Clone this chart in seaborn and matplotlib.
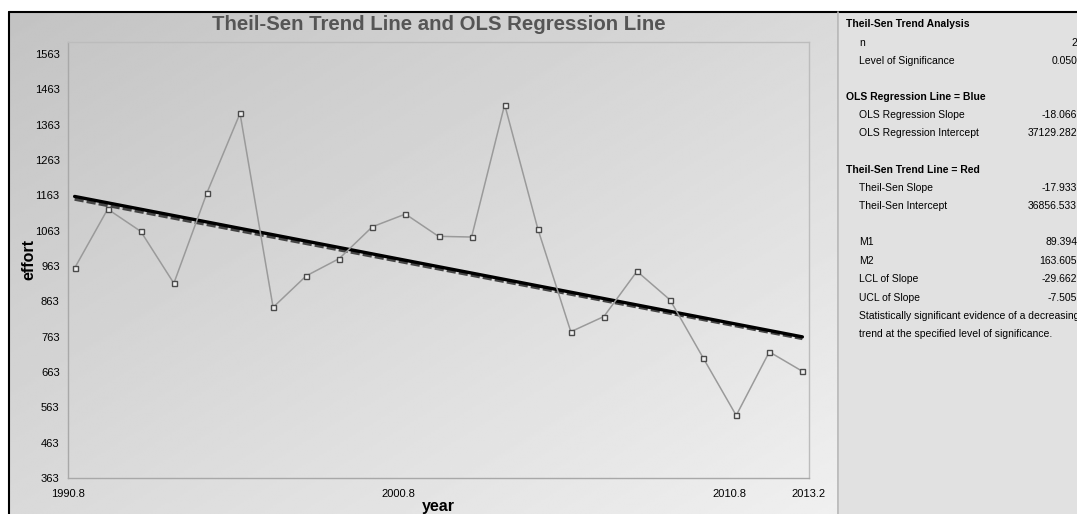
import numpy as np
import pandas as pd
import matplotlib
matplotlib.use("Agg")
import matplotlib.pyplot as plt
from matplotlib.lines import Line2D
import seaborn as sns

# ---- data -------------------------------------------------------------
years = list(range(1991, 2014))
effort = [957, 1124, 1061, 914, 1170, 1395, 846, 935, 984, 1074, 1110,
          1047, 1045, 1420, 1069, 777, 820, 948, 867, 703, 540, 720, 665]

ols_slope = -18.066
ols_intercept = 37129.282
ts_slope = -17.933
ts_intercept = 36856.533

y_ticks = [363, 463, 563, 663, 763, 863, 963, 1063, 1163, 1263, 1363, 1463, 1563]
x_ticks = [1990.8, 2000.8, 2010.8, 2013.2]
x_tick_labels = ["1990.8", "2000.8", "2010.8", "2013.2"]

panel_rows = [
    ("Theil-Sen Trend Analysis", None, "head"),
    ("n", "23", "row"),
    ("Level of Significance", "0.050", "row"),
    (None, None, "gap"),
    ("OLS Regression Line = Blue", None, "head"),
    ("OLS Regression Slope", "-18.066", "row"),
    ("OLS Regression Intercept", "37129.282", "row"),
    (None, None, "gap"),
    ("Theil-Sen Trend Line = Red", None, "head"),
    ("Theil-Sen Slope", "-17.933", "row"),
    ("Theil-Sen Intercept", "36856.533", "row"),
    (None, None, "gap"),
    ("M1", "89.394", "row"),
    ("M2", "163.605", "row"),
    ("LCL of Slope", "-29.662", "row"),
    ("UCL of Slope", "-7.505", "row"),
    ("Statistically significant evidence of a decreasing", None, "note"),
    ("trend at the specified level of significance.", None, "note"),
]

# ---- figure setup -----------------------------------------------------
sns.set_theme(style="white")
plt.rcParams["font.family"] = ["Liberation Sans", "DejaVu Sans"]

W, H = 1077, 514
fig = plt.figure(figsize=(W / 100, H / 100), dpi=100)
fig.patch.set_facecolor("white")


def fx(px):
    return px / W


def fy(py):
    return 1 - py / H


# gradient backdrop of the chart area
bg = fig.add_axes([fx(9), 0, fx(838 - 9), 1 - 12 / H], zorder=-10)
gx, gy = np.meshgrid(np.linspace(0, 1, 400), np.linspace(0, 1, 200))
grad = 0.765 + 0.175 * (0.5 * gx + 0.5 * gy)
bg.imshow(grad, cmap="gray", vmin=0, vmax=1, aspect="auto",
          extent=[0, 1, 1, 0], interpolation="bilinear")
bg.set_axis_off()

# statistics side panel
side = fig.add_axes([fx(839), 0, fx(W - 839), 1 - 12 / H], zorder=-10)
side.set_facecolor("#e1e1e1")
side.set_xticks([])
side.set_yticks([])
for s in side.spines.values():
    s.set_visible(False)

# outer frame lines
fig.add_artist(Line2D([fx(9), 1], [fy(12), fy(12)], color="black", lw=1.5))
fig.add_artist(Line2D([fx(9), fx(9)], [0, fy(12)], color="black", lw=1.5))
fig.add_artist(Line2D([fx(838), fx(838)], [0, fy(12)], color="#b4b4b4", lw=1.2))

# ---- main plot --------------------------------------------------------
ax = fig.add_axes([fx(68), fy(478), fx(809 - 68), (478 - 42) / H])
ax.patch.set_alpha(0)

df = pd.DataFrame({"year": years, "effort": effort})
xs = np.array([years[0], years[-1]], dtype=float)
lines = pd.DataFrame({
    "year": np.concatenate([xs, xs]),
    "value": np.concatenate([ts_intercept + ts_slope * xs,
                             ols_intercept + ols_slope * xs]),
    "fit": ["Theil-Sen"] * 2 + ["OLS"] * 2,
})

sns.lineplot(data=lines[lines["fit"] == "Theil-Sen"], x="year", y="value",
             ax=ax, color="#454545", lw=2.2, linestyle=(0, (3, 1)),
             legend=False, zorder=3)
sns.lineplot(data=lines[lines["fit"] == "OLS"], x="year", y="value",
             ax=ax, color="black", lw=2.4, legend=False, zorder=4)
sns.lineplot(data=df, x="year", y="effort", ax=ax, color="#9a9a9a", lw=1.1,
             marker="s", markersize=3.6, markerfacecolor="#f0f0f0",
             markeredgecolor="#4a4a4a", markeredgewidth=1.0, zorder=5)

ax.set_xlim(1990.8, 2013.2)
ax.set_ylim(363, 1597)
ax.set_yticks(y_ticks)
ax.set_yticklabels([str(v) for v in y_ticks])
ax.set_xticks(x_ticks)
ax.set_xticklabels(x_tick_labels)
ax.tick_params(axis="both", labelsize=8, colors="#a0a0a0", labelcolor="black",
               length=4, width=0.8, direction="out")
ax.tick_params(axis="x", pad=4)
ax.tick_params(axis="y", pad=2)
ax.set_xlabel("year", fontsize=11.5, fontweight="bold", color="black", labelpad=0)
ax.set_ylabel("effort", fontsize=11.5, fontweight="bold", color="black", labelpad=-1)
ax.grid(False)
for name, s in ax.spines.items():
    s.set_visible(True)
    s.set_linewidth(1.0)
    s.set_color("#a8a8a8" if name in ("left", "bottom") else "#bcbcbc")

fig.text(fx(438.5), fy(24), "Theil-Sen Trend Line and OLS Regression Line",
         ha="center", va="center", fontsize=14.7, fontweight="bold", color="#555555")

# ---- side panel text ---------------------------------------------------
row_y = [24, 43, 61, 79, 97, 115.5, 133.5, 152, 170, 188, 206, 224,
         242, 261, 279, 298, 316, 334]
for (label, value, kind), yy in zip(panel_rows, row_y):
    if kind == "gap":
        continue
    if kind == "head":
        fig.text(fx(846), fy(yy), label, ha="left", va="center", fontsize=7.5,
                 fontweight="bold", color="black")
    else:
        fig.text(fx(859), fy(yy), label, ha="left", va="center", fontsize=7.5,
                 color="black")
    if value is not None:
        right = 1083 if value == "23" else 1077
        fig.text(fx(right), fy(yy), value, ha="right", va="center",
                 fontsize=7.5, color="black")

fig.savefig("out.png", dpi=100)
